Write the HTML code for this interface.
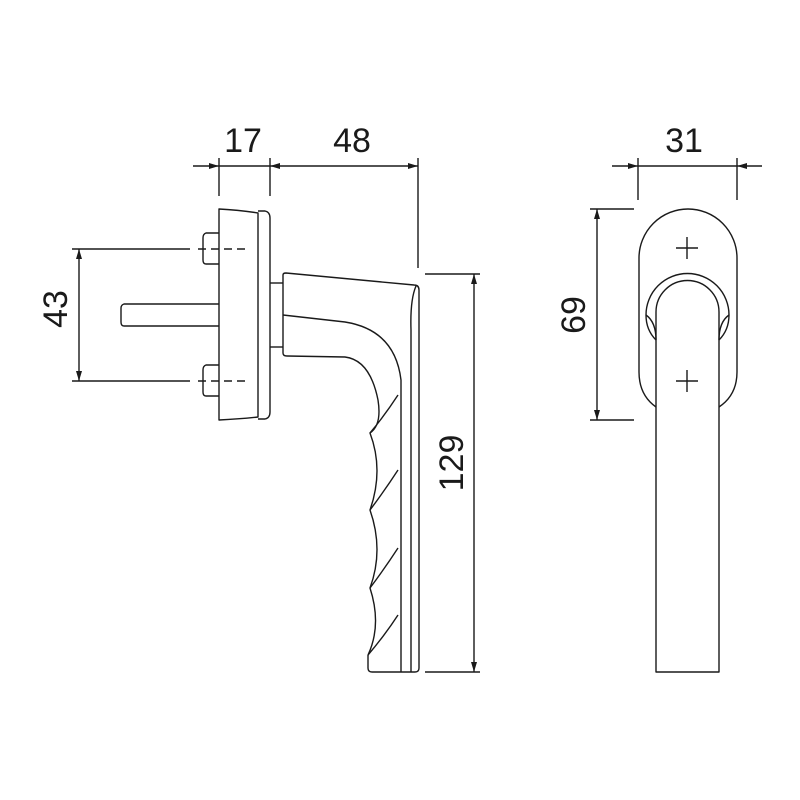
<!DOCTYPE html>
<html><head><meta charset="utf-8"><style>html,body{margin:0;padding:0;background:#fff}svg{display:block}</style></head>
<body>
<svg width="800" height="800" viewBox="0 0 800 800" xmlns="http://www.w3.org/2000/svg">
<defs>
<marker id="a" viewBox="0 0 10 6" refX="10" refY="3" markerWidth="10" markerHeight="6" markerUnits="userSpaceOnUse" orient="auto-start-reverse"><path d="M0,0 L10,3 L0,6 z" fill="#1a1a1a"/></marker>
</defs>
<g fill="none" stroke="#1a1a1a" stroke-width="1.4" stroke-linejoin="round">
<!-- dims left top -->
<line x1="219" y1="158" x2="219" y2="196"/>
<line x1="270" y1="158" x2="270" y2="196"/>
<line x1="418" y1="158" x2="418" y2="268"/>
<line x1="193" y1="166" x2="219" y2="166" marker-end="url(#a)"/>
<line x1="219" y1="166" x2="270" y2="166"/>
<line x1="270" y1="166" x2="418" y2="166" marker-start="url(#a)" marker-end="url(#a)"/>
<!-- 43 -->
<line x1="72" y1="249" x2="190" y2="249"/>
<line x1="72" y1="381" x2="190" y2="381"/>
<line x1="79" y1="249" x2="79" y2="381" marker-start="url(#a)" marker-end="url(#a)"/>
<line x1="198" y1="249" x2="247" y2="249" stroke-dasharray="8,5"/>
<line x1="198" y1="381" x2="247" y2="381" stroke-dasharray="8,5"/>
<!-- 129 -->
<line x1="425" y1="274" x2="480" y2="274"/>
<line x1="425" y1="672" x2="480" y2="672"/>
<line x1="474" y1="274" x2="474" y2="672" marker-start="url(#a)" marker-end="url(#a)"/>
<!-- rosette side -->
<path d="M219,209 Q240,210 258,213 L258,417 Q240,419 219,420 Z"/>
<path d="M258,211 L265,211 Q270,212 270,218 L270,412 Q270,418 265,419 L258,419"/>
<path d="M219,233 L206,233 Q203,234 203,238 L203,260 Q203,264 206,264 L219,264"/>
<path d="M219,365 L206,365 Q203,366 203,370 L203,392 Q203,396 206,396 L219,396"/>
<path d="M219,304 L124,304 Q121,305 121,308 L121,322 Q121,326 124,326 L219,326"/>
<line x1="270" y1="283" x2="283" y2="283"/>
<line x1="270" y1="347" x2="283" y2="347"/>
<!-- handle side -->
<path d="M283,275 Q283,273 286,273 L414,285 Q419,285 419,290 L419,668 Q419,672 415,672 L372,672 Q368,672 368,668 L368,655"/>
<path d="M283,275 L283,353 Q283,356 287,356 L345,357 Q370,360 378,400 Q382,425 370,433 Q384,470 370,510 Q384,550 370,588 Q382,625 368,655"/>
<path d="M283,315 L345,322 Q395,330 401,380 L401,672"/>
<path d="M416,286 Q410,300 411,330 L411,672"/>
<path d="M370,433 Q385,415 398,395"/>
<path d="M370,510 Q385,490 398,470"/>
<path d="M370,588 Q385,568 398,548"/>
<path d="M368,655 Q385,635 398,615"/>
<!-- right view dims -->
<line x1="638" y1="158" x2="638" y2="200"/>
<line x1="737" y1="158" x2="737" y2="200"/>
<line x1="612" y1="166" x2="638" y2="166" marker-end="url(#a)"/>
<line x1="638" y1="166" x2="737" y2="166"/>
<line x1="762" y1="166" x2="737" y2="166" marker-end="url(#a)"/>
<line x1="590" y1="209" x2="634" y2="209"/>
<line x1="590" y1="420" x2="634" y2="420"/>
<line x1="597" y1="209" x2="597" y2="420" marker-start="url(#a)" marker-end="url(#a)"/>
<!-- right view -->
<path d="M656,407 Q639,395 639,372 L639,258 A49,49 0 0 1 737,258 L737,372 Q737,395 719,407"/>
<path d="M656,672 L656,312 A31.5,31.5 0 0 1 719,312 L719,672 Z"/>
<path d="M656,340 Q646,330 646,315 A41.5,41.5 0 0 1 729,315 Q729,330 719,340"/>
<path d="M646,315 Q656,322 656,340 M729,315 Q719,322 719,340"/>
<path d="M676,248 L698,248 M687,237 L687,259 M676,381 L698,381 M687,370 L687,392"/>
</g>
<g font-family="Liberation Sans, sans-serif" font-size="34" fill="#1a1a1a" text-anchor="middle">
<text x="243" y="152">17</text>
<text x="352" y="152">48</text>
<text x="684" y="152">31</text>
<text transform="translate(67,309) rotate(-90)">43</text>
<text transform="translate(463,463) rotate(-90)">129</text>
<text transform="translate(585,315) rotate(-90)">69</text>
</g>
</svg>
</body></html>
